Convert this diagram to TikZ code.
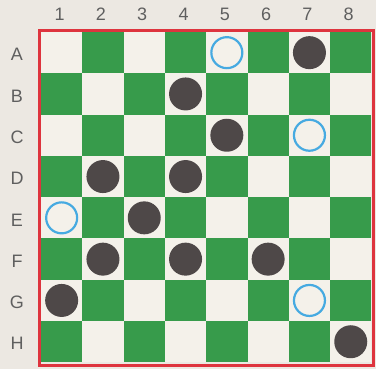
\documentclass[tikz,border=0pt]{standalone}
\usepackage{fontspec}
\setmainfont{Liberation Sans}
\definecolor{bg}{RGB}{236,232,226}
\definecolor{lightsq}{RGB}{244,241,234}
\definecolor{darksq}{RGB}{55,155,75}
\definecolor{frame}{RGB}{222,52,62}
\definecolor{piece}{RGB}{78,72,72}
\definecolor{ring}{RGB}{70,170,225}
\definecolor{lbl}{RGB}{95,95,95}
\begin{document}
\begin{tikzpicture}[x=1pt,y=-1pt,
  lab/.style={text=lbl,font=\fontsize{18}{18}\selectfont,inner sep=0pt},
  blackpc/.style={circle,fill=piece,minimum size=33pt,inner sep=0pt},
  bluepc/.style={circle,draw=ring,line width=2.2pt,fill=lightsq,minimum size=31pt,inner sep=0pt}]
\fill[bg] (0,0) rectangle (376,369);
\useasboundingbox (0,0) rectangle (376,369);
\def\ox{41}\def\oy{32}\def\cs{41.3}
% squares
\foreach \r in {1,...,8}{
  \foreach \c in {1,...,8}{
    \pgfmathtruncatemacro{\parity}{mod(\r+\c,2)}
    \ifnum\parity=0 \def\sq{lightsq}\else\def\sq{darksq}\fi
    \fill[\sq] ({\ox+(\c-1)*\cs},{\oy+(\r-1)*\cs}) rectangle ++(\cs,\cs);
  }
}
\draw[frame,line width=3pt] (39,30.5) rectangle (373.5,366);
% labels
\foreach \c in {1,...,8}{
  \node[lab] (col\c) at ({\ox+(\c-0.5)*\cs-2},14) {\c};
}
\foreach \l [count=\r] in {A,B,C,D,E,F,G,H}{
  \node[lab] (row\l) at (17,{\oy+(\r-0.5)*\cs+2}) {\l};
}
% pieces
\foreach \r/\c/\n in {1/7/a7,2/4/b4,3/5/c5,4/2/d2,4/4/d4,5/3/e3,6/2/f2,6/4/f4,6/6/f6,7/1/g1,8/8/h8}{
  \node[blackpc] (\n) at ({\ox+(\c-0.5)*\cs},{\oy+(\r-0.5)*\cs}) {};
}
\foreach \r/\c/\n in {1/5/a5,3/7/c7,5/1/e1,7/7/g7}{
  \node[bluepc] (\n) at ({\ox+(\c-0.5)*\cs},{\oy+(\r-0.5)*\cs}) {};
}
\end{tikzpicture}
\end{document}
